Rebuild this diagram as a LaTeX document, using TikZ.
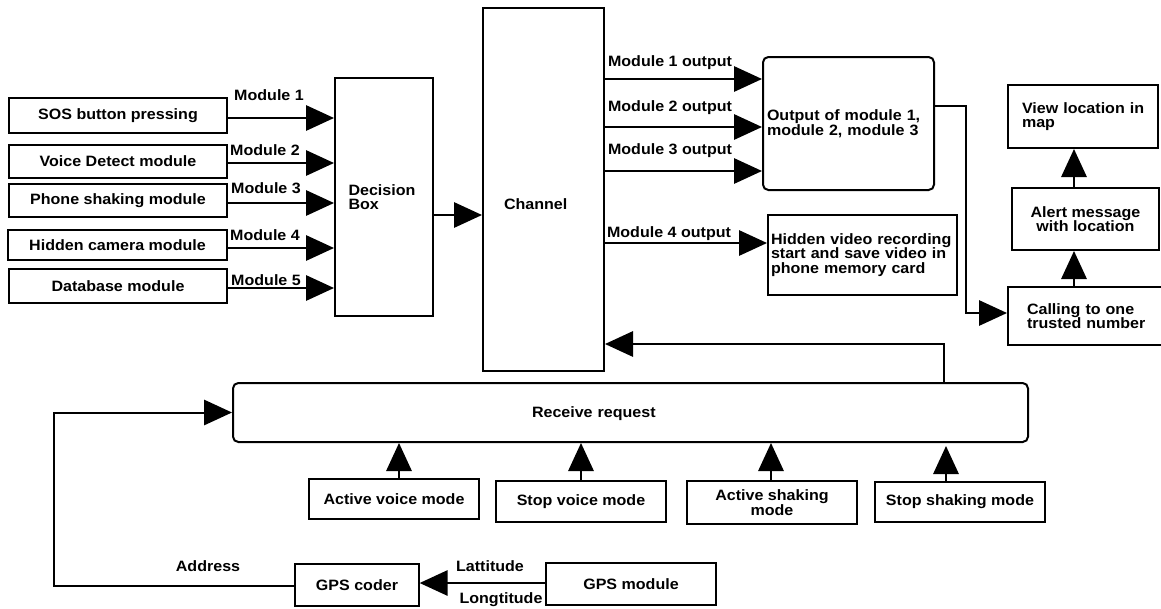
\documentclass[tikz,border=0pt]{standalone}
\usepackage{fontspec}
\setmainfont{Liberation Sans}[FakeStretch=1.07]
\usetikzlibrary{arrows.meta}
\newcommand\fs{\fontsize{11.25}{11}\selectfont\bfseries}
\tikzset{
  bx/.style={draw, line width=1.5pt, inner sep=0pt, font=\fs, align=center},
  thinbx/.style={bx, line width=1pt},
  rbox/.style={bx, rounded corners=4pt},
  arr/.style={line width=1.5pt, -{Triangle[length=21pt,width=19pt]}},
  lbl/.style={font=\fs, inner sep=0pt, anchor=base},
}
% #1 options, #2 name, #3 x1, #4 y1, #5 x2, #6 y2, #7 text
\newcommand\bx[7][]{\node[bx,#1,minimum width={(#5-#3)*0.75pt},minimum height={(#6-#4)*0.75pt}] (#2) at ({(#3+#5)/2},{(#4+#6)/2}) {#7};}
\begin{document}
\begin{tikzpicture}[x=0.75pt,y=-0.75pt]
\useasboundingbox[fill=white] (0,0) rectangle (1161,608);

% left input boxes
\bx{sos}{9}{98}{227}{133}{SOS button pressing}
\bx{vd}{9}{145}{227}{178}{Voice Detect module}
\bx{ps}{9}{184}{227}{217}{Phone shaking module}
\bx{hc}{8}{230}{227}{260}{Hidden camera module}
\bx{db}{9}{269}{227}{303}{Database module}

% decision and channel
\bx[align=left,text width=71*0.75pt]{dec}{335}{78}{433}{316}{Decision\\Box}
\bx[align=left,text width=79*0.75pt]{ch}{483}{8}{604}{371}{\raisebox{-15pt}[0pt][0pt]{Channel}}

% outputs
\bx[rbox,align=left,text width=163*0.75pt]{out}{763}{57}{934}{190}{\mbox{Output of module 1,}\\\mbox{module 2, module 3}}
\bx[align=left,text width=183*0.75pt]{hv}{768}{215}{957}{295}{\mbox{Hidden video recording}\\\mbox{start and save video in}\\\mbox{phone memory card}}

% right column
\bx[align=left,text width=122*0.75pt]{vl}{1008}{85}{1158}{148}{\mbox{View location in}\\\mbox{map}}
\bx{al}{1012}{188}{1159}{250}{Alert message\\with location}
\bx[align=left,text width=117*0.75pt]{cl}{1008}{287}{1163}{345}{\mbox{Calling to one}\\\mbox{trusted number}}

% receive request
\bx[rbox,align=left,text width=197*0.75pt]{rr}{233}{383}{1028}{442}{\raisebox{-4pt}[0pt][0pt]{Receive request}}

% bottom boxes
\bx[thinbx]{av}{309}{479}{479}{519}{Active voice mode}
\bx[thinbx]{sv}{496}{481}{666}{522}{Stop voice mode}
\bx[thinbx]{ash}{687}{481}{857}{524}{Active shaking\\mode}
\bx[thinbx]{ssh}{875}{482}{1045}{522}{Stop shaking mode}
\bx[thinbx]{gc}{295}{564}{419}{606}{GPS coder}
\bx[thinbx]{gm}{546}{563}{716}{605}{GPS module}

% inputs to decision box
\draw[arr] (sos.east |- 0,118) -- (dec.west |- 0,118);
\draw[arr] (vd.east |- 0,163) -- (dec.west |- 0,163);
\draw[arr] (ps.east |- 0,203) -- (dec.west |- 0,203);
\draw[arr] (hc.east |- 0,248) -- (dec.west |- 0,248);
\draw[arr] (db.east |- 0,288) -- (dec.west |- 0,288);
\node[lbl] (l1) at (269,100.5) {Module 1};
\node[lbl] (l2) at (265,155.5) {Module 2};
\node[lbl] (l3) at (266,193.5) {Module 3};
\node[lbl] (l4) at (265,240.5) {Module 4};
\node[lbl] (l5) at (266,285.5) {Module 5};

% decision to channel
\draw[arr] (dec.east |- 0,215) -- (ch.west |- 0,215);

% channel outputs
\draw[arr] (ch.east |- 0,79) -- (out.west |- 0,79);
\draw[arr] (ch.east |- 0,127) -- (out.west |- 0,127);
\draw[arr] (ch.east |- 0,171) -- (out.west |- 0,171);
\draw[arr] (ch.east |- 0,243) -- (hv.west |- 0,243);
\node[lbl] (o1) at (670,66) {Module 1 output};
\node[lbl] (o2) at (670,111) {Module 2 output};
\node[lbl] (o3) at (670,154) {Module 3 output};
\node[lbl] (o4) at (669,237) {Module 4 output};

% output to calling
\coordinate (oc) at (966,106);
\draw[arr] (out.east |- oc) -- (oc) |- (cl.west |- 0,313);

% calling -> alert -> view
\coordinate (ax) at (1074,0);
\draw[arr] (cl.north -| ax) -- (al.south -| ax);
\draw[arr] (al.north -| ax) -- (vl.south -| ax);

% feedback receive -> channel
\coordinate (fb) at (944,344);
\draw[arr] (rr.north -| fb) |- (ch.east |- fb);

% mode boxes to receive
\draw[arr] (av.north -| 399,0) -- (rr.south -| 399,0);
\draw[arr] (sv.north -| 581,0) -- (rr.south -| 581,0);
\draw[arr] (ash.north -| 771,0) -- (rr.south -| 771,0);
\draw[arr] (ssh.north -| 946,0) -- ([yshift=-2.25pt]rr.south -| 946,0);

% GPS
\draw[arr] (gm.west |- 0,583) -- (gc.east |- 0,583);
\coordinate (ad) at (54,586);
\draw[arr] (gc.west |- ad) -- (ad) |- (rr.west);
\node[lbl] (la) at (208,571.5) {Address};
\node[lbl] (lt) at (490,571.5) {Lattitude};
\node[lbl] (lg) at (501,603.5) {Longtitude};
\end{tikzpicture}
\end{document}
